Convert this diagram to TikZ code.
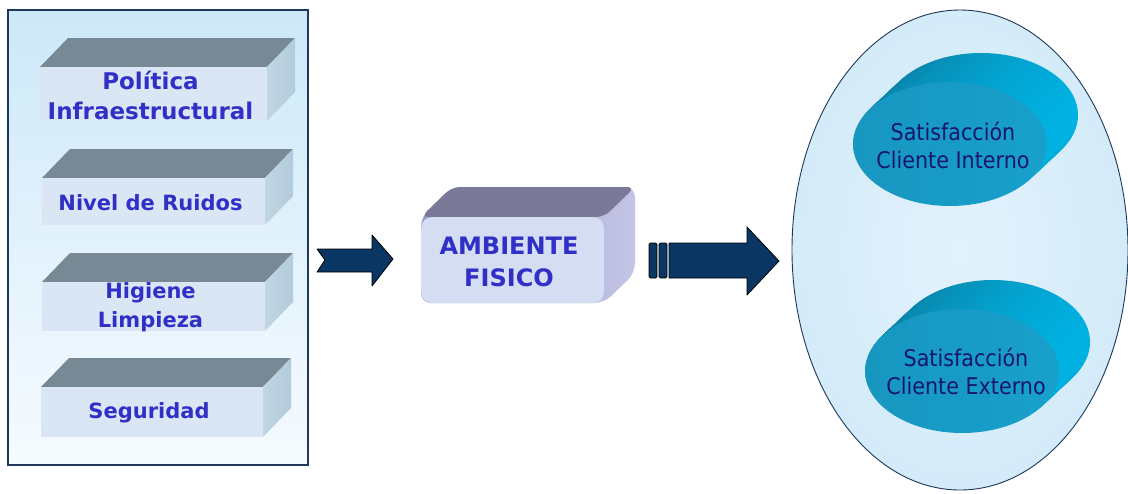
\documentclass[tikz,border=0pt]{standalone}
\usepackage{fontspec}
\setmainfont{DejaVu Sans}
\newfontfamily\condfont{DejaVu Sans Condensed}
\usetikzlibrary{shapes.geometric}
\definecolor{panelborder}{RGB}{30,55,90}
\definecolor{paneltop}{RGB}{205,232,248}
\definecolor{panelbot}{RGB}{246,251,255}
\definecolor{slabtopc}{RGB}{119,137,149}
\definecolor{slabsidec}{RGB}{178,203,219}
\definecolor{slabfrontc}{RGB}{218,230,244}
\definecolor{slabtextc}{RGB}{48,48,198}
\definecolor{arrowc}{RGB}{10,54,100}
\definecolor{ambtop}{RGB}{122,122,152}
\definecolor{ambside1}{RGB}{150,150,196}
\definecolor{ambside2}{RGB}{196,196,230}
\definecolor{ambfront}{RGB}{212,221,242}
\definecolor{ovalfill}{RGB}{212,235,249}
\definecolor{ovalin}{RGB}{226,242,252}
\definecolor{diskdark}{RGB}{10,128,165}
\definecolor{disklight}{RGB}{0,178,226}
\definecolor{diskfront}{RGB}{24,160,204}
\definecolor{satextc}{RGB}{22,22,112}
\tikzset{
  slabtop/.style={fill=slabtopc},
  slabfront/.style={fill=slabfrontc},
  slabtext/.style={text=slabtextc, font=\bfseries\fontsize{21}{29}\selectfont, align=center, inner sep=0pt},
  bigslabtext/.style={slabtext, font=\bfseries\fontsize{23}{30}\selectfont},
  blockarrow/.style={fill=arrowc, draw=black, line width=0.8pt, line join=round},
  satext/.style={text=satextc, font=\condfont\fontsize{23}{28}\selectfont, align=center, inner sep=0pt},
}
\newcommand\mkslab[7]{%
  % #1 name, #2 left, #3 top, #4 right, #5 bottom, #6 text, #7 text style
  \fill[slabtop] (#2,#3) -- (#2+28,#3-29) -- (#4+28,#3-29) -- (#4,#3) -- cycle;
  \shade[left color=slabsidec!80!white, right color=slabsidec] (#4,#3) -- (#4+28,#3-29) -- (#4+28,#5-29) -- (#4,#5) -- cycle;
  \fill[slabfront] (#2,#3) rectangle (#4,#5);
  \node[#7] (#1) at ({(#2+#4)/2-3},{(#3+#5)/2+1}) {#6};
}
\newcommand\mkdisk[3]{%
  % #1 name, #2 cx, #3 cy
  \foreach \k in {31,30,...,1}{
    \shade[left color=diskdark, right color=disklight] (#2+\k,#3-\k*29/31) ellipse [x radius=97, y radius=62];
  }
  \shade[left color=diskfront!94!black, right color=diskfront] (#2,#3) ellipse [x radius=97, y radius=62];
  \coordinate (#1) at (#2,#3);
}
\begin{document}
\begin{tikzpicture}[x=1pt,y=-1pt]
\useasboundingbox[fill=white] (0,0) rectangle (1128,493);

% left panel
\shade[top color=paneltop, bottom color=panelbot] (8,10) rectangle (308,465);
\node[draw=panelborder, line width=1.5pt, minimum width=300pt, minimum height=455pt, inner sep=0pt] (panel) at (158,237.5) {};

\mkslab{s1}{40}{67}{267}{121}{Política\\Infraestructural}{bigslabtext}
\mkslab{s2}{42}{178}{265}{225}{Nivel de Ruidos}{slabtext}
\mkslab{s3}{42}{282}{265}{331}{Higiene\\Limpieza}{slabtext}
\mkslab{s4}{41}{387}{263}{437}{Seguridad}{slabtext}

% arrow 1
\draw[blockarrow] (317,249) -- (372,249) -- (372,235) -- (393,259) -- (372,286) -- (372,272) -- (317,272) -- (325,260) -- cycle;

% ambiente box
\shade[left color=ambside1, right color=ambside2, rounded corners=10pt] (421,217) -- (452,187) -- (635,187) -- (635,273) -- (604,303) -- (421,303) -- cycle;
\fill[ambtop, rounded corners=8pt] (421,217) -- (452,187) -- (635,187) -- (604,217) -- cycle;
\fill[ambfront, rounded corners=11pt] (421,217) rectangle (604,303);
\node[text=slabtextc, font=\bfseries\fontsize{24}{32}\selectfont, align=center, inner sep=0pt] (amb) at (509,262) {AMBIENTE\\FISICO};

% arrow 2
\draw[blockarrow, rounded corners=1.5pt] (649,243) rectangle (657,278);
\draw[blockarrow, rounded corners=1.5pt] (659,243) rectangle (667,278);
\draw[blockarrow] (669,243) -- (747,243) -- (747,227) -- (779,261) -- (747,295) -- (747,278) -- (669,278) -- cycle;

% big oval
\node[ellipse, draw=panelborder, line width=0.9pt, inner color=ovalin, outer color=ovalfill, minimum width=336pt, minimum height=480pt] (oval) at (960,250) {};

\mkdisk{d1}{950}{144}
\node[satext] (t1) at (953,145) {Satisfacción\\Cliente Interno};
\mkdisk{d2}{962}{371}
\node[satext] (t2) at (966,371) {Satisfacción\\Cliente Externo};
\end{tikzpicture}
\end{document}
